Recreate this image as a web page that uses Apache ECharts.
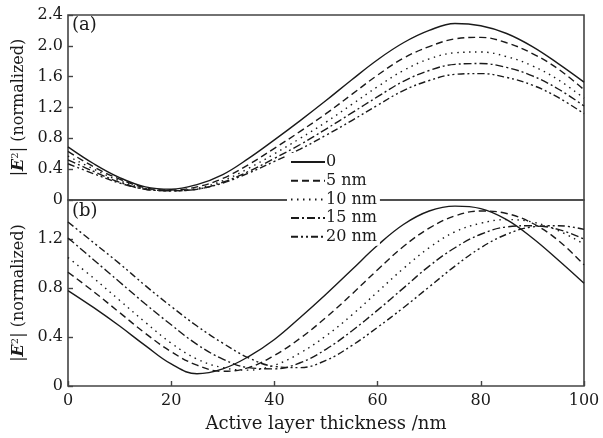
<!DOCTYPE html>
<html>
<head>
<meta charset="utf-8">
<script src="https://cdn.jsdelivr.net/npm/echarts@6/dist/echarts.min.js"></script>
<style>html,body{margin:0;padding:0;background:#fff;}#c{width:603px;height:438px;}</style>
</head>
<body>
<div id="c"></div>
<script>
// ---- data ----
const thickness = [0,5,10,15,20,25,30,35,40,45,50,55,60,65,70,75,80,85,90,95,100];
const seriesNames = ['0','5 nm','10 nm','15 nm','20 nm'];
// panel (a)
const topD0  = [0.69,0.47,0.29,0.17,0.14,0.20,0.33,0.54,0.78,1.03,1.29,1.56,1.82,2.04,2.20,2.29,2.26,2.16,1.99,1.77,1.53];
const topD5  = [0.63,0.43,0.27,0.16,0.13,0.17,0.28,0.46,0.67,0.89,1.12,1.37,1.62,1.84,1.99,2.09,2.11,2.04,1.90,1.70,1.43];
const topD10 = [0.57,0.40,0.25,0.15,0.12,0.15,0.25,0.41,0.60,0.80,1.01,1.24,1.47,1.68,1.83,1.91,1.92,1.86,1.74,1.56,1.32];
const topD15 = [0.52,0.37,0.23,0.14,0.12,0.14,0.23,0.37,0.54,0.72,0.92,1.13,1.34,1.54,1.68,1.76,1.77,1.72,1.61,1.44,1.22];
const topD20 = [0.47,0.34,0.22,0.14,0.12,0.14,0.22,0.35,0.50,0.66,0.84,1.03,1.23,1.42,1.55,1.63,1.64,1.59,1.49,1.33,1.12];
// panel (b)
const botD0  = [0.78,0.64,0.49,0.33,0.18,0.10,0.14,0.24,0.38,0.56,0.75,0.95,1.15,1.32,1.43,1.47,1.45,1.36,1.21,1.03,0.84];
const botD5  = [0.93,0.77,0.60,0.43,0.28,0.17,0.12,0.15,0.25,0.39,0.56,0.75,0.95,1.14,1.29,1.39,1.43,1.41,1.33,1.19,0.99];
const botD10 = [1.05,0.88,0.70,0.52,0.35,0.22,0.15,0.13,0.17,0.27,0.41,0.58,0.77,0.96,1.13,1.26,1.33,1.36,1.34,1.27,1.16];
const botD15 = [1.21,1.03,0.85,0.67,0.50,0.34,0.22,0.15,0.14,0.19,0.30,0.45,0.62,0.80,0.98,1.13,1.24,1.30,1.31,1.28,1.20];
const botD20 = [1.34,1.17,1.00,0.82,0.65,0.49,0.35,0.23,0.16,0.15,0.21,0.33,0.48,0.64,0.81,0.98,1.13,1.24,1.30,1.31,1.28];
const topTicks = [0,0.4,0.8,1.2,1.6,2.0,2.4];
const botTicks = [0,0.4,0.8,1.2];
const xTicks = [0,20,40,60,80,100];

// ---- styles ----
const FONT = 'DejaVu Serif';
const INK = '#1a1a1a';
const dashes = ['solid',[7,4],[1.5,4.5],[8,3,2,3],[7,3,2,3,2,3]];
const topSets = [topD0,topD5,topD10,topD15,topD20];
const botSets = [botD0,botD5,botD10,botD15,botD20];

const series = [];
function mk(name, arr, gi, k){
  return {
    name, type:'line', xAxisIndex:gi, yAxisIndex:gi, smooth:0.4, symbol:'none', showSymbol:false,
    data: thickness.map((x,i)=>[x,arr[i]]),
    lineStyle:{color:INK, width:1.4, type:dashes[k]},
    itemStyle:{color:INK}
  };
}
seriesNames.forEach((n,k)=>series.push(mk(n, topSets[k], 0, k)));
seriesNames.forEach((n,k)=>series.push(mk(n, botSets[k], 1, k)));

const yName = '|{i|E}{s|2}| (normalized)';
const yNameStyle = {fontSize:16, color:INK, fontFamily:FONT,
  rich:{i:{fontStyle:'italic', fontWeight:'bold', fontSize:16, fontFamily:FONT, color:INK},
        s:{fontSize:10, verticalAlign:'top', fontFamily:FONT, color:INK}}};
const fmt = v => v === 0 ? '0' : v.toFixed(1);

const option = {
  animation:false,
  backgroundColor:'#fff',
  textStyle:{fontFamily:FONT},
  grid:[
    {left:68, right:19, top:15, height:185, show:true, borderColor:'#444', borderWidth:1.6},
    {left:68, right:19, top:200, height:186, show:true, borderColor:'#444', borderWidth:1.6}
  ],
  xAxis:[
    {gridIndex:0, type:'value', min:xTicks[0], max:xTicks[xTicks.length-1], interval:20,
     axisLine:{show:false}, axisTick:{show:false}, axisLabel:{show:false}, splitLine:{show:false}},
    {gridIndex:1, type:'value', min:xTicks[0], max:xTicks[xTicks.length-1], interval:20,
     axisLine:{show:false}, axisTick:{inside:true, length:5, lineStyle:{color:'#444', width:1.4}},
     axisLabel:{fontSize:16, color:INK, margin:7, fontFamily:FONT}, splitLine:{show:false},
     name:'Active layer thickness /nm', nameLocation:'middle', nameGap:29,
     nameTextStyle:{fontSize:18, color:INK, fontFamily:FONT}}
  ],
  yAxis:[
    {gridIndex:0, type:'value', min:topTicks[0], max:topTicks[topTicks.length-1], interval:0.4,
     axisLine:{show:false}, axisTick:{inside:true, length:5, lineStyle:{color:'#444', width:1.4}},
     axisLabel:{fontSize:16, color:INK, margin:5, formatter:fmt, fontFamily:FONT}, splitLine:{show:false},
     name:yName, nameLocation:'middle', nameGap:37, nameTextStyle:yNameStyle},
    {gridIndex:1, type:'value', min:botTicks[0], max:1.52, interval:0.4,
     axisLine:{show:false}, axisTick:{inside:true, length:5, lineStyle:{color:'#444', width:1.4}},
     axisLabel:{fontSize:16, color:INK, margin:5, formatter:fmt, showMaxLabel:false, fontFamily:FONT}, splitLine:{show:false},
     name:yName, nameLocation:'middle', nameGap:37, nameTextStyle:yNameStyle}
  ],
  legend:{
    data:seriesNames, orient:'vertical', left:287, top:153,
    itemWidth:34, itemHeight:10, itemGap:2.7,
    itemStyle:{opacity:0},
    backgroundColor:'#fff', padding:[1,3,1,3],
    textStyle:{fontSize:16, color:INK, fontFamily:FONT, padding:[0,0,0,-4]}
  },
  graphic:[
    {type:'text', left:72, top:16, style:{text:'(a)', font:'18px "DejaVu Serif"', fill:INK}},
    {type:'text', left:72, top:202, style:{text:'(b)', font:'18px "DejaVu Serif"', fill:INK}}
  ],
  series
};
const chart = echarts.init(document.getElementById('c'), null, {renderer:'canvas'});
chart.setOption(option);
</script>
</body>
</html>
